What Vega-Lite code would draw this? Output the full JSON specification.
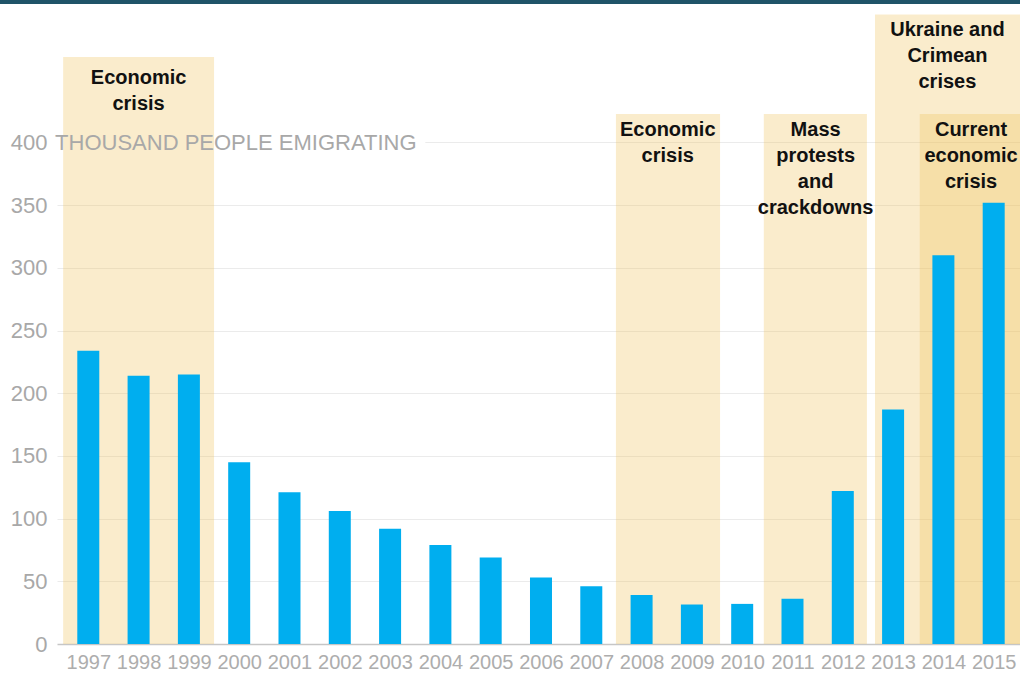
{
  "$schema": "https://vega.github.io/schema/vega-lite/v6.json",
  "width": 963,
  "height": 644,
  "autosize": {"type": "none"},
  "padding": {"left": 57, "top": 0, "right": 0, "bottom": 29},
  "background": "white",
  "config": {
    "view": {"stroke": null},
    "text": {"lineBreak": "\n"}
  },
  "datasets": {
    "emigration": [
      {"year": 1997, "thousands": 234},
      {"year": 1998, "thousands": 214},
      {"year": 1999, "thousands": 215},
      {"year": 2000, "thousands": 145},
      {"year": 2001, "thousands": 121},
      {"year": 2002, "thousands": 106},
      {"year": 2003, "thousands": 92},
      {"year": 2004, "thousands": 79},
      {"year": 2005, "thousands": 69},
      {"year": 2006, "thousands": 53},
      {"year": 2007, "thousands": 46},
      {"year": 2008, "thousands": 39},
      {"year": 2009, "thousands": 31.5},
      {"year": 2010, "thousands": 32},
      {"year": 2011, "thousands": 36},
      {"year": 2012, "thousands": 122},
      {"year": 2013, "thousands": 187},
      {"year": 2014, "thousands": 310},
      {"year": 2015, "thousands": 352}
    ],
    "periods": [
      {"period": "econ1", "start": 1996.5, "end": 1999.5, "top": 468.3, "label_year": 1998, "label": "Economic\ncrisis"},
      {"period": "econ2", "start": 2007.49, "end": 2009.56, "top": 422.8, "label_year": 2008.52, "label": "Economic\ncrisis"},
      {"period": "protests", "start": 2010.43, "end": 2012.48, "top": 422.8, "label_year": 2011.46, "label": "Mass\nprotests\nand\ncrackdowns"},
      {"period": "ukraine", "start": 2012.64, "end": 2015.6, "top": 502.2, "label_year": 2014.08, "label": "Ukraine and\nCrimean\ncrises"},
      {"period": "current", "start": 2013.53, "end": 2015.6, "top": 422.8, "label_year": 2014.55, "label": "Current\neconomic\ncrisis"}
    ]
  },
  "layer": [
    {
      "data": {"values": [{}]},
      "mark": {"type": "rule", "color": "#ebebeb", "strokeWidth": 1},
      "encoding": {
        "x": {"datum": 2003.7, "type": "quantitative"},
        "x2": {"datum": 2015.6},
        "y": {"datum": 400, "type": "quantitative"}
      }
    },
    {
      "data": {"name": "periods"},
      "mark": {"type": "rect", "color": "#eebf55", "opacity": 0.3},
      "encoding": {
        "x": {"field": "start", "type": "quantitative"},
        "x2": {"field": "end"},
        "y": {"field": "top", "type": "quantitative"},
        "y2": {"datum": 0}
      }
    },
    {
      "data": {"name": "emigration"},
      "mark": {"type": "bar", "color": "#00aeef", "size": 22},
      "encoding": {
        "x": {
          "field": "year",
          "type": "quantitative",
          "scale": {"domain": [1996.378, 2015.523], "nice": false, "zero": false, "padding": 0},
          "axis": {
            "title": null,
            "values": [1997, 1998, 1999, 2000, 2001, 2002, 2003, 2004, 2005, 2006, 2007, 2008, 2009, 2010, 2011, 2012, 2013, 2014, 2015],
            "format": "d",
            "grid": false,
            "ticks": false,
            "domain": false,
            "labelFont": "Liberation Sans",
            "labelFontSize": 20,
            "labelColor": "#adadad",
            "labelPadding": 8,
            "labelFlush": false,
            "labelOverlap": false,
            "labelBound": false
          }
        },
        "y": {
          "field": "thousands",
          "type": "quantitative",
          "scale": {"domain": [0, 513.7], "nice": false, "padding": 0},
          "axis": {
            "title": null,
            "values": [0, 50, 100, 150, 200, 250, 300, 350, 400],
            "grid": true,
            "gridColor": {"condition": {"test": "datum.value === 0", "value": "#c6c6c6"}, "value": "#ebebeb"},
            "gridWidth": {"condition": {"test": "datum.value === 0", "value": 1.5}, "value": 1},
            "gridOpacity": {"condition": {"test": "datum.value === 400", "value": 0}, "value": 1},
            "ticks": false,
            "domain": false,
            "labelFont": "Liberation Sans",
            "labelFontSize": 22,
            "labelColor": "#a8a8a8",
            "labelPadding": 10,
            "labelOverlap": false,
            "labelBound": false,
            "labelFlush": false
          }
        }
      }
    },
    {
      "data": {"values": [{}]},
      "mark": {"type": "rect", "color": "#1f5468"},
      "encoding": {
        "x": {"datum": 1995, "type": "quantitative"},
        "x2": {"datum": 2016.5},
        "y": {"datum": 510.5, "type": "quantitative"},
        "y2": {"datum": 530}
      }
    },
    {
      "data": {"name": "periods"},
      "transform": [{"filter": "datum.period === 'econ1'"}],
      "mark": {"type": "text", "font": "Liberation Sans", "fontWeight": "bold", "fontSize": 20, "lineHeight": 26, "color": "#111111", "align": "center", "baseline": "top", "dy": 11},
      "encoding": {
        "x": {"field": "label_year", "type": "quantitative"},
        "y": {"field": "top", "type": "quantitative"},
        "text": {"field": "label"}
      }
    },
    {
      "data": {"name": "periods"},
      "transform": [{"filter": "datum.period !== 'econ1'"}],
      "mark": {"type": "text", "font": "Liberation Sans", "fontWeight": "bold", "fontSize": 20, "lineHeight": 26, "color": "#111111", "align": "center", "baseline": "top", "dy": 6},
      "encoding": {
        "x": {"field": "label_year", "type": "quantitative"},
        "y": {"field": "top", "type": "quantitative"},
        "text": {"field": "label"}
      }
    },
    {
      "data": {"values": [{}]},
      "mark": {"type": "text", "font": "Liberation Sans", "fontSize": 22, "color": "#a8a8a8", "align": "left", "baseline": "middle"},
      "encoding": {
        "x": {"datum": 1996.34, "type": "quantitative"},
        "y": {"datum": 400, "type": "quantitative"},
        "text": {"value": "THOUSAND PEOPLE EMIGRATING"}
      }
    }
  ]
}
